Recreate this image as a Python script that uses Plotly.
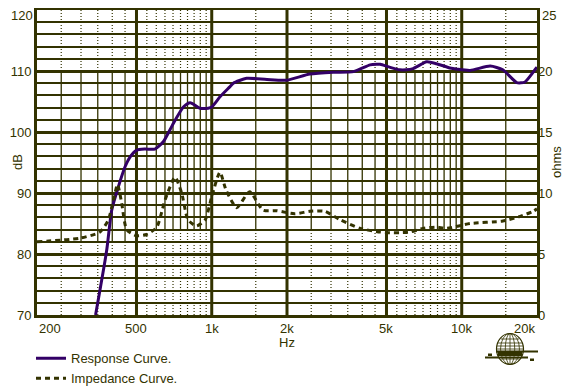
import numpy as np
import plotly.graph_objects as go

# ---------------- data ----------------
freq_resp = [343, 380, 398, 423, 450, 471, 500, 541, 592, 640, 702, 770, 820, 898, 968,
             1000, 1081, 1181, 1220, 1379, 1663, 2000, 2468, 3064, 3692, 4300, 4577, 4720,
             5170, 5660, 5980, 6390, 7240, 7920, 8960, 9600, 10800, 13000, 14600, 16600,
             17900, 19800, 20000]
spl_db = [70.0, 80.6, 87.2, 91.0, 94.3, 95.9, 97.0, 97.2, 97.2, 98.4, 101.4, 104.1, 104.8,
          103.9, 103.9, 104.1, 105.8, 107.4, 108.0, 108.8, 108.6, 108.5, 109.5, 109.8, 109.9,
          111.0, 111.1, 111.1, 110.6, 110.2, 110.2, 110.4, 111.5, 111.2, 110.5, 110.3, 110.1,
          110.8, 110.2, 108.1, 108.2, 110.4, 110.6]

freq_imp = [200, 297, 357, 386, 404, 420, 436, 457, 500, 549, 603, 650, 713, 758, 804, 869,
            941, 1000, 1078, 1143, 1259, 1417, 1603, 1813, 2145, 2470, 2830, 3270, 3930,
            4720, 5160, 5660, 6200, 7000, 7920, 8700, 10800, 14600, 17000, 19300, 20000]
imp_ohm = [6.0, 6.3, 6.8, 7.8, 9.4, 10.7, 9.2, 7.0, 6.5, 6.6, 7.2, 9.4, 11.3, 10.0, 7.8, 7.3,
           7.8, 9.7, 11.7, 10.2, 8.8, 10.1, 8.6, 8.55, 8.3, 8.5, 8.5, 7.8, 7.1,
           6.8, 6.75, 6.75, 6.8, 7.1, 7.2, 7.1, 7.5, 7.7, 8.06, 8.5, 8.7]

x_tick_vals = [200, 500, 1000, 2000, 5000, 10000, 20000]
x_tick_text = ["200", "500", "1k", "2k", "5k", "10k", "20k"]
minor_low = [250, 300, 350, 400, 450]
minor_high = [550, 600, 650, 700, 750, 800, 850, 900, 950,
              1500,
              2500, 3000, 3500, 4000, 4500,
              5500, 6000, 6500, 7000, 7500, 8000, 8500, 9000, 9500,
              15000]
db_ticks = [70, 80, 90, 100, 110, 120]
ohm_ticks = [0, 5, 10, 15, 20, 25]

# ---------------- style ----------------
INK = "#333300"
PURPLE = "#330066"
FONT = "Liberation Sans, Arial, sans-serif"
# the page body adds an 8px offset; the figure is sized so the plot lands at 37..537 x 10..315
W, H = 567, 380
L, R, T, B = 29, 38, 2, 73
PX0, PY0 = 37, 10          # plot origin in window pixels
PW, PH = W - L - R, H - T - B


def segs(xs, y0, y1):
    X, Y = [], []
    for x in xs:
        X += [x, x, None]
        Y += [y0, y1, None]
    return X, Y


fig = go.Figure()

# minor vertical grid: solid middle part, dotted ends
for xs, ylow in ((minor_low, 82), (minor_high, 84)):
    X, Y = segs(xs, ylow, 110)
    fig.add_trace(go.Scatter(x=X, y=Y, mode="lines", line=dict(color=INK, width=1.3),
                             hoverinfo="skip", showlegend=False))
    X1, Y1 = segs(xs, 70, ylow)
    X2, Y2 = segs(xs, 110, 120)
    fig.add_trace(go.Scatter(x=X1 + X2, y=Y1 + Y2, mode="lines",
                             line=dict(color=INK, width=1.2, dash="1px,2px"),
                             hoverinfo="skip", showlegend=False))

# major vertical grid
X, Y = segs(x_tick_vals[1:-1], 70, 120)
fig.add_trace(go.Scatter(x=X, y=Y, mode="lines", line=dict(color=INK, width=3),
                         hoverinfo="skip", showlegend=False))

# curves
fig.add_trace(go.Scatter(x=freq_imp, y=imp_ohm, yaxis="y2", mode="lines",
                         name="Impedance Curve.", legendrank=2,
                         line=dict(color=INK, width=3, dash="5px,4px", shape="spline",
                                   smoothing=0.6)))
fig.add_trace(go.Scatter(x=freq_resp, y=spl_db, mode="lines", name="Response Curve.",
                         legendrank=1,
                         line=dict(color=PURPLE, width=3, shape="spline", smoothing=0.6)))

tfont = dict(family=FONT, size=13, color=INK)

# bottom tick labels as annotations (end labels sit inside the frame)
ann = []
for v, t in zip(x_tick_vals, x_tick_text):
    xa = "center"
    if v == x_tick_vals[0]:
        xa = "left"
    elif v == x_tick_vals[-1]:
        xa = "right"
    ann.append(dict(x=np.log10(v), xref="x", y=0, yref="paper", yanchor="top", yshift=-4,
                    xanchor=xa, text=t, showarrow=False, font=tfont))
# top tick labels of both y axes sit just below the frame top
ann.append(dict(x=0, xref="paper", xanchor="right", xshift=-2, y=db_ticks[-1], yref="y",
                yanchor="top", yshift=4, text=str(db_ticks[-1]), showarrow=False, font=tfont))
ann.append(dict(x=1, xref="paper", xanchor="left", xshift=3, y=ohm_ticks[-1], yref="y2",
                yanchor="top", yshift=4, text=str(ohm_ticks[-1]), showarrow=False, font=tfont))
ann.append(dict(x=0.5, xref="paper", y=0, yref="paper", yanchor="top", yshift=-18,
                text="Hz", showarrow=False, font=tfont))
ann.append(dict(x=0, xref="paper", xshift=-29, y=0.5, yref="paper", text="dB",
                textangle=-90, showarrow=False, font=tfont))
ann.append(dict(x=1, xref="paper", xshift=29, y=0.5, yref="paper", text="ohms",
                textangle=-90, showarrow=False, font=tfont))


# logo (globe) drawn with shapes, in paper coordinates
def px(x):
    return (x - PX0) / PW


def py(y):
    return (PY0 + PH - y) / PH


shapes = []
cx, cy, rx, ry = 510, 349, 13.5, 15.5
shapes.append(dict(type="circle", xref="paper", yref="paper", x0=px(cx - rx), x1=px(cx + rx),
                   y0=py(cy + ry), y1=py(cy - ry), line=dict(color=INK, width=1.2),
                   fillcolor="white"))
for k in (0.35, 0.7):
    shapes.append(dict(type="circle", xref="paper", yref="paper", x0=px(cx - rx * k),
                       x1=px(cx + rx * k), y0=py(cy + ry), y1=py(cy - ry),
                       line=dict(color=INK, width=0.8)))
shapes.append(dict(type="line", xref="paper", yref="paper", x0=px(cx), x1=px(cx),
                   y0=py(cy + ry), y1=py(cy - ry), line=dict(color=INK, width=0.8)))
for dy, half in ((-10, 9), (-6, 12), (-3, 13), (0, 13.5), (3, 13), (6, 12), (10, 9)):
    shapes.append(dict(type="line", xref="paper", yref="paper", x0=px(cx - half),
                       x1=px(cx + half), y0=py(cy + dy), y1=py(cy + dy),
                       line=dict(color=INK, width=0.8)))
shapes.append(dict(type="rect", xref="paper", yref="paper", x0=px(498), x1=px(522),
                   y0=py(356), y1=py(351), fillcolor=INK, line=dict(width=0)))
shapes.append(dict(type="line", xref="paper", yref="paper", x0=px(496), x1=px(538),
                   y0=py(351.5), y1=py(351.5), line=dict(color=INK, width=2)))
shapes.append(dict(type="line", xref="paper", yref="paper", x0=px(485), x1=px(528),
                   y0=py(357.5), y1=py(357.5), line=dict(color=INK, width=2)))
shapes.append(dict(type="rect", xref="paper", yref="paper", x0=px(488), x1=px(492),
                   y0=py(356), y1=py(353.5), fillcolor=INK, line=dict(width=0)))
shapes.append(dict(type="rect", xref="paper", yref="paper", x0=px(530), x1=px(534),
                   y0=py(361), y1=py(358.5), fillcolor=INK, line=dict(width=0)))

fig.update_layout(
    width=W, height=H,
    margin=dict(l=L, r=R, t=T, b=B, autoexpand=False),
    paper_bgcolor="white", plot_bgcolor="white",
    font=dict(family=FONT, size=13, color=INK),
    xaxis=dict(type="log", range=[np.log10(200), np.log10(20000)], automargin=False,
               showgrid=False, showticklabels=False, ticks="", zeroline=False,
               showline=True, mirror=True, linecolor=INK, linewidth=3),
    yaxis=dict(range=[70, 120], tickvals=db_ticks,
               ticktext=[str(v) for v in db_ticks[:-1]] + [""],
               ticks="", showgrid=True, automargin=False,
               gridcolor=INK, gridwidth=2.5, zeroline=False,
               minor=dict(dtick=2, showgrid=True, gridcolor=INK, gridwidth=1.5),
               showline=True, mirror=True, linecolor=INK, linewidth=3,
               tickfont=tfont),
    yaxis2=dict(range=[0, 25], tickvals=ohm_ticks,
                ticktext=[str(v) for v in ohm_ticks[:-1]] + [""],
                overlaying="y", side="right",
                showgrid=False, zeroline=False, ticks="", automargin=False,
                tickfont=tfont),
    legend=dict(x=-0.012, y=-0.093, xanchor="left", yanchor="top", orientation="v",
                bgcolor="rgba(0,0,0,0)", borderwidth=0, tracegroupgap=0,
                font=tfont, itemwidth=30),
    annotations=ann,
    shapes=shapes,
    showlegend=True,
)

fig.write_html("out.html")
